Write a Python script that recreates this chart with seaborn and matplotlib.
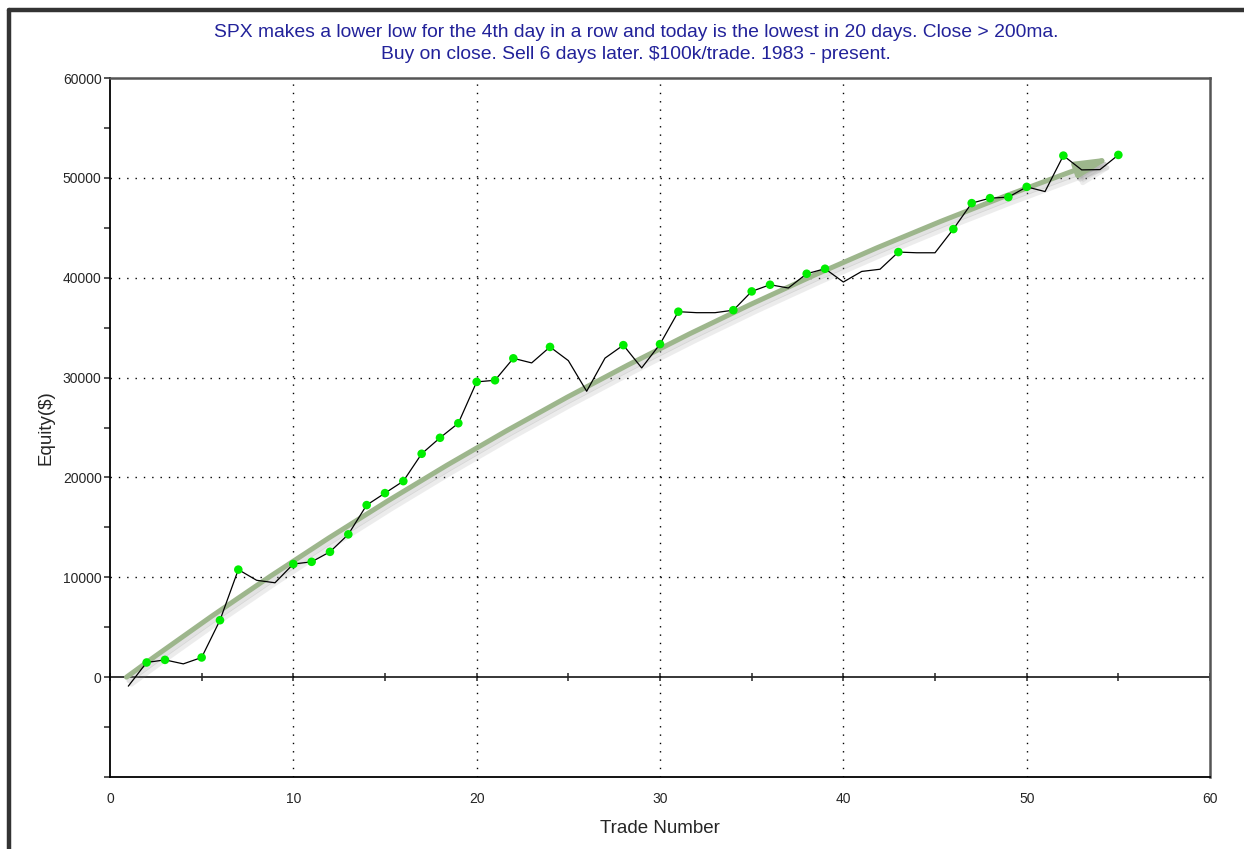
import numpy as np
import pandas as pd
import matplotlib
matplotlib.use("Agg")
import matplotlib.pyplot as plt
from matplotlib.lines import Line2D
from matplotlib.transforms import offset_copy
from matplotlib.ticker import FixedLocator, MultipleLocator, FuncFormatter
import seaborn as sns

# ============================
# Data
# ============================

trade_number = list(range(1, 56))
equity = [-900, 1470, 1730, 1330, 1970, 5700, 10770, 9700, 9450, 11330,
          11550, 12550, 14300, 17230, 18430, 19630, 22370, 23970, 25430, 29570,
          29730, 31930, 31470, 33070, 31700, 28630, 31950, 33250, 30970, 33350,
          36600, 36500, 36500, 36750, 38630, 39300, 38970, 40400, 40900, 39570,
          40630, 40850, 42570, 42500, 42500, 44870, 47470, 47970, 48070, 49100,
          48630, 52230, 50800, 50830, 52300]

# trend arrow end points (trade, equity)
trend_start = (0.9, 0)
trend_end = (54.7, 52100)

title_lines = ["SPX makes a lower low for the 4th day in a row and today is the lowest in 20 days. Close > 200ma.",
               "Buy on close. Sell 6 days later. $100k/trade. 1983 - present."]


def draw_trend_arrow(ax, fig, color, alpha, dx=0, dy=0):
    """Curved trend arrow; dx/dy shift it in pixels (used for the shadow)."""
    trans = offset_copy(ax.transData, fig=fig, x=dx, y=dy, units="dots")
    ax.annotate("", xy=trend_end, xytext=trend_start, xycoords=trans, textcoords=trans,
                arrowprops=dict(arrowstyle="-|>,head_length=1.0,head_width=0.22",
                                connectionstyle="arc3,rad=-0.075",
                                mutation_scale=20, color=color, alpha=alpha, lw=3.6,
                                shrinkA=0, shrinkB=0),
                zorder=2)


def main():
    df = pd.DataFrame({"trade": trade_number, "equity": equity})
    # green dots mark new equity highs
    df["new_high"] = df["equity"] >= df["equity"].cummax()
    highs = df[df["new_high"] & (df["trade"] > 1)]

    sns.set_style("white")
    plt.rcParams["font.family"] = ["Liberation Sans", "DejaVu Sans"]

    fig = plt.figure(figsize=(12.44, 8.49), dpi=100)
    ax = fig.add_axes([0.0884, 0.0848, 0.8843, 0.8233])

    ax.set_xlim(0, 60)
    ax.set_ylim(-10000, 60000)

    # dotted grid
    for gx in range(10, 60, 10):
        ax.axvline(gx, color="black", lw=1, ls=(0, (1, 5)), zorder=1)
    for gy in range(10000, 60000, 10000):
        ax.axhline(gy, color="black", lw=1, ls=(0, (1, 5)), zorder=1)

    # trend arrow with soft shadow
    draw_trend_arrow(ax, fig, "#999999", 0.18, dx=5, dy=-7)
    draw_trend_arrow(ax, fig, "#999999", 0.28, dx=2.5, dy=-3.5)
    draw_trend_arrow(ax, fig, "#9db68c", 1.0)

    sns.lineplot(data=df, x="trade", y="equity", color="black", lw=0.9, ax=ax, zorder=3)
    sns.scatterplot(data=highs, x="trade", y="equity", color="#00ee00", s=38,
                    edgecolor="none", ax=ax, zorder=4)

    # zero line carries the x tick marks
    zero_axis = ax.secondary_xaxis(1 / 7)
    zero_axis.spines["bottom"].set_linewidth(1.3)
    zero_axis.xaxis.set_major_locator(MultipleLocator(5))
    zero_axis.tick_params(direction="inout", length=6, width=1.1, labelbottom=False)

    ax.xaxis.set_major_locator(MultipleLocator(10))
    ax.tick_params(axis="x", length=0, pad=11, labelsize=10)
    ax.yaxis.set_major_locator(FixedLocator(list(range(-10000, 60001, 10000))))
    ax.yaxis.set_minor_locator(MultipleLocator(5000))
    ax.yaxis.set_major_formatter(FuncFormatter(lambda v, p: "" if v < 0 else f"{int(v)}"))
    ax.tick_params(axis="y", which="both", direction="out", length=4, width=1.1, pad=2,
                   labelsize=10, left=True)

    for side in ["left", "bottom"]:
        ax.spines[side].set_color("black")
        ax.spines[side].set_linewidth(1.3)
    for side in ["top", "right"]:
        ax.spines[side].set_color("#555555")
        ax.spines[side].set_linewidth(1.8)

    ax.set_xlabel("Trade Number", fontsize=13.5, labelpad=10)
    ax.set_ylabel("Equity($)", fontsize=13.5, labelpad=6)

    fig.text(0.5115, 0.962, title_lines[0], ha="center", va="center", fontsize=13.9, color="#22229a")
    fig.text(0.5115, 0.936, title_lines[1], ha="center", va="center", fontsize=13.9, color="#22229a")

    # dark window frame on the left and top
    fig.add_artist(Line2D([0.0072, 0.0072], [0, 0.988], color="#333333", lw=3.2))
    fig.add_artist(Line2D([0.0072, 1], [0.988, 0.988], color="#333333", lw=3.2))

    fig.savefig("out.png", dpi=100)
    plt.close(fig)


if __name__ == "__main__":
    main()
